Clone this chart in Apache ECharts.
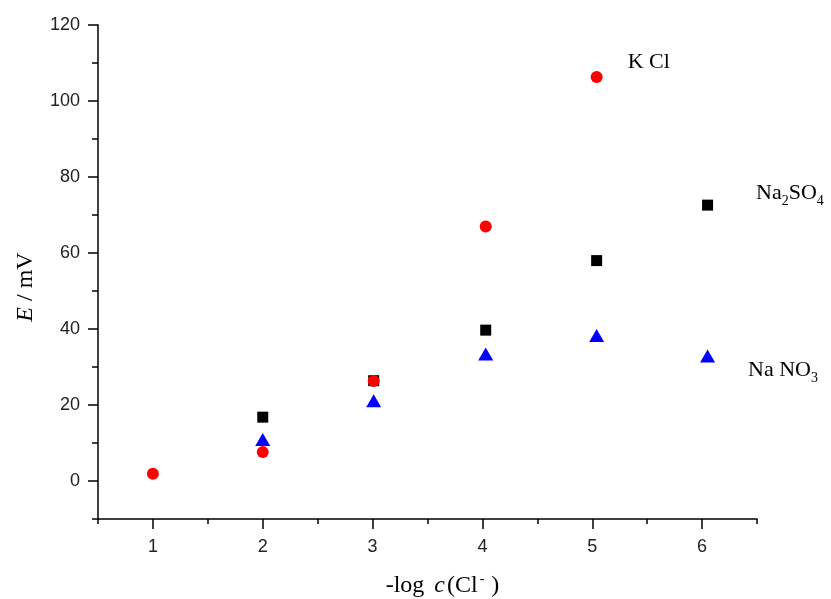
<!DOCTYPE html>
<html>
<head>
<meta charset="utf-8">
<script src="https://cdn.jsdelivr.net/npm/echarts@6/dist/echarts.min.js"></script>
<style>html,body{margin:0;padding:0;background:#fff;}#c{width:831px;height:599px;}</style>
</head>
<body>
<div id="c"></div>
<script>
// Data
const kclX = [1, 2, 3.01, 4.03, 5.04];
const kclY = [1.9, 7.6, 26.3, 67.0, 106.3];
const na2so4X = [2, 3.01, 4.03, 5.04, 6.05];
const na2so4Y = [16.8, 26.4, 39.7, 58.0, 72.6];
const nano3X = [2, 3.01, 4.03, 5.04, 6.05];
const nano3Y = [10.9, 21.1, 33.4, 38.3, 32.9];

const xTicks = [1, 2, 3, 4, 5, 6];
const xMinorTicks = [0.5, 1.5, 2.5, 3.5, 4.5, 5.5, 6.5];
const yTicks = [0, 20, 40, 60, 80, 100, 120];
const yMinorTicks = [-10, 10, 30, 50, 70, 90, 110];

const seriesNames = ['KCl', 'Na2SO4', 'NaNO3'];

function pairs(xs, ys) { return xs.map((x, i) => [x, ys[i]]); }

const serif = '"Liberation Serif", "Times New Roman", serif';
const sans = '"Liberation Sans", Arial, sans-serif';

const labelRich = {
  n: { fontFamily: serif, fontSize: 22, color: '#000' },
  sub: { fontFamily: serif, fontSize: 14, color: '#000', padding: [16, 0, 0, 0] }
};

function withEndLabel(data, idx, label) {
  return data.map((d, i) => i === idx ? { value: d, label: label } : d);
}

const chart = echarts.init(document.getElementById('c'), null, { renderer: 'canvas' });

const axisLineStyle = { color: '#000', width: 1.5 };

chart.setOption({
  animation: false,
  backgroundColor: '#fff',
  grid: { left: 98, top: 25, width: 659, height: 494, containLabel: false, outerBoundsMode: 'none' },
  xAxis: [
    {
      type: 'value', min: 0.5, max: 6.5,
      splitLine: { show: false },
      axisLine: { show: true, onZero: false, lineStyle: axisLineStyle },
      axisTick: { show: true, customValues: xTicks, length: 10, lineStyle: axisLineStyle },
      axisLabel: { customValues: xTicks, margin: 19, fontFamily: sans, fontSize: 18, color: '#222' },
      name: '{n|-log }{i|c}{n|(Cl}{sup|-}{p|)}',
      nameLocation: 'middle',
      nameGap: 53,
      nameTextStyle: {
        padding: [0, 0, 0, 30],
        rich: {
          n: { fontFamily: serif, fontSize: 24, color: '#000' },
          i: { fontFamily: serif, fontSize: 24, fontStyle: 'italic', color: '#000', padding: [0, 2, 0, 4] },
          sup: { fontFamily: serif, fontSize: 14, color: '#000', padding: [0, 7, 13, 2] },
          p: { fontFamily: serif, fontSize: 24, color: '#000' }
        }
      }
    },
    {
      type: 'value', min: 0.5, max: 6.5, position: 'bottom',
      splitLine: { show: false },
      axisLine: { show: false, onZero: false },
      axisTick: { show: true, customValues: xMinorTicks, length: 5, lineStyle: axisLineStyle },
      axisLabel: { show: false }
    }
  ],
  yAxis: [
    {
      type: 'value', min: -10, max: 120,
      splitLine: { show: false },
      axisLine: { show: true, onZero: false, lineStyle: axisLineStyle },
      axisTick: { show: true, customValues: yTicks, length: 10, lineStyle: axisLineStyle },
      axisLabel: { customValues: yTicks, margin: 18, fontFamily: sans, fontSize: 18, color: '#222' },
      name: '{i|E}{n| / mV}',
      nameLocation: 'middle',
      nameRotate: 90,
      nameGap: 60,
      nameTextStyle: {
        padding: [0, 30, 0, 0],
        rich: {
          n: { fontFamily: serif, fontSize: 24, color: '#000' },
          i: { fontFamily: serif, fontSize: 24, fontStyle: 'italic', color: '#000' }
        }
      }
    },
    {
      type: 'value', min: -10, max: 120, position: 'left',
      splitLine: { show: false },
      axisLine: { show: false, onZero: false },
      axisTick: { show: true, customValues: yMinorTicks, length: 6, lineStyle: axisLineStyle },
      axisLabel: { show: false }
    }
  ],
  series: [
    {
      name: seriesNames[1], type: 'scatter', xAxisIndex: 0, yAxisIndex: 0,
      symbol: 'rect', symbolSize: 11,
      itemStyle: { color: '#000', opacity: 1 },
      data: withEndLabel(pairs(na2so4X, na2so4Y), 4, {
        show: true, position: 'right', distance: 0, offset: [43, -12],
        formatter: '{n|Na}{sub|2}{n|SO}{sub|4}', rich: labelRich
      })
    },
    {
      name: seriesNames[2], type: 'scatter', xAxisIndex: 0, yAxisIndex: 0,
      symbol: 'triangle', symbolSize: [15, 13],
      itemStyle: { color: '#0000ff', opacity: 1 },
      data: withEndLabel(pairs(nano3X, nano3Y), 4, {
        show: true, position: 'right', distance: 0, offset: [33, 14],
        formatter: '{n|Na NO}{sub|3}', rich: labelRich
      })
    },
    {
      name: seriesNames[0], type: 'scatter', xAxisIndex: 0, yAxisIndex: 0,
      symbol: 'circle', symbolSize: 12,
      itemStyle: { color: '#ff0000', opacity: 1 },
      data: withEndLabel(pairs(kclX, kclY), 4, {
        show: true, position: 'right', distance: 0, offset: [25, -15],
        formatter: '{n|K Cl}', rich: labelRich
      })
    }
  ]
});
</script>
</body>
</html>
